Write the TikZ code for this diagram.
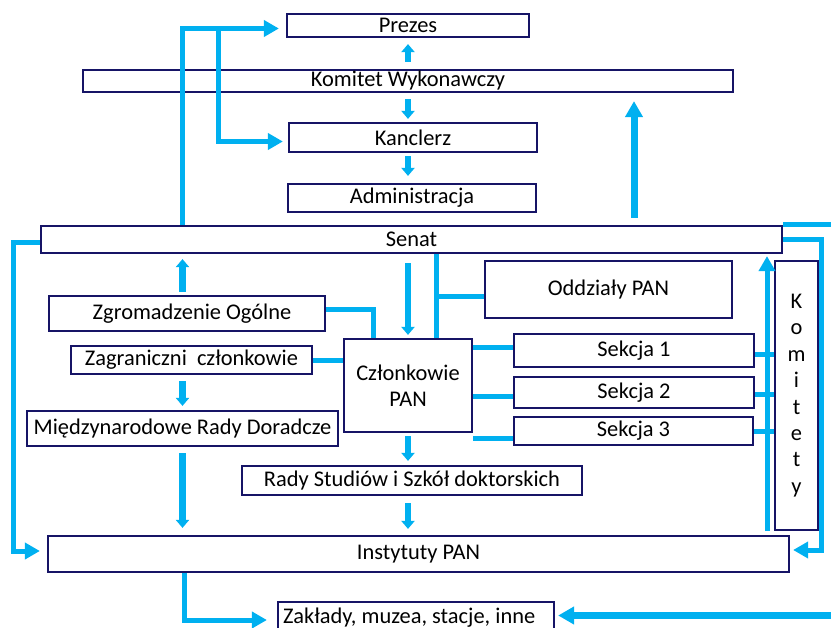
\documentclass[tikz,border=0pt]{standalone}
\usepackage{fontspec}
\setmainfont{Carlito}
\usetikzlibrary{arrows.meta}
\definecolor{navy}{RGB}{22,20,102}
\definecolor{sky}{RGB}{0,176,240}
\tikzset{
  box/.style={draw=navy, line width=2.2bp, fill=white, inner sep=0pt, align=center,
    font=\fontsize{22.5}{26}\selectfont},
  conn/.style={draw=sky, line width=5bp},
  arr/.style={conn, -{Triangle[length=15bp,width=16bp]}},
  barr/.style={draw=sky, line width=7bp, -{Triangle[length=16bp,width=17bp]}},
  sarr/.style={draw=sky, line width=6.5bp, -{Triangle[length=8bp,width=13bp]}},
}
\begin{document}
\begin{tikzpicture}[x=1bp,y=-1bp]
\useasboundingbox (0,0) rectangle (831,628);
% boxes
\node[box, minimum width=242bp, minimum height=23bp] (prezes) at (408,25.5) {Prezes};
\node[box, minimum width=650bp, minimum height=22bp] (komitet) at (408,81) {Komitet Wykonawczy};
\node[box, minimum width=248bp, minimum height=29bp] (kanclerz) at (413,137.5) {Kanclerz};
\node[box, minimum width=248bp, minimum height=28bp] (admin) at (412,198) {Administracja};
\node[box, minimum width=741bp, minimum height=27bp] (senat) at (411.5,239.5) {Senat};
\node[box, minimum width=276bp, minimum height=35bp] (zgrom) at (187,313.5) {\hspace*{10bp}Zgromadzenie Ogólne};
\node[box, minimum width=241bp, minimum height=28bp] (zagr) at (191.5,360) {Zagraniczni\ \ członkowie};
\node[box, minimum width=311bp, minimum height=35bp] (mrd) at (182.5,428.5) {Międzynarodowe Rady Doradcze};
\node[box, minimum width=128bp, minimum height=93bp] (czlon) at (408,385.5) {Członkowie\\PAN};
\node[box, minimum width=247bp, minimum height=57bp] (oddz) at (608.5,289.5) {Oddziały PAN};
\node[box, minimum width=240bp, minimum height=33bp] (sek1) at (634,350.5) {Sekcja 1};
\node[box, minimum width=240bp, minimum height=31bp] (sek2) at (634,392.5) {Sekcja 2};
\node[box, minimum width=239bp, minimum height=28bp] (sek3) at (633.5,431) {Sekcja 3};
\node[box, minimum width=43bp, minimum height=269bp, font=\fontsize{22.5}{26.5}\selectfont] (komitety) at (796.5,395.5) {K\\o\\m\\i\\t\\e\\t\\y};
\node[box, minimum width=340bp, minimum height=29bp] (rady) at (412,480.5) {Rady Studiów i Szkół doktorskich};
\node[box, minimum width=741bp, minimum height=36bp] (inst) at (418.5,554) {Instytuty PAN};
\node[box, minimum height=32bp, inner xsep=5bp] (zakl) at (416,618) {\makebox[266bp][l]{Zakłady, muzea, stacje, inne}};
% helper columns
\coordinate (c1) at (182.5,0);
\coordinate (c2) at (218.5,0);
\coordinate (cx) at (408,0);
\coordinate (cb) at (634,0);
\coordinate (cv) at (436.5,0);
\coordinate (cz) at (373.5,0);
\coordinate (rx) at (821,0);
\coordinate (lx) at (13.5,0);
\coordinate (kv) at (767,0);
\coordinate (ex) at (840,0);
\coordinate (iz) at (184.5,0);
\coordinate (pz) at ([yshift=-3bp]prezes.west);
% connectors
\draw[arr, shorten >=7bp] (senat.north -| c1) |- (pz);
\draw[arr, shorten >=5bp] (c2 |- pz) |- ([yshift=-4bp]kanclerz.west);
\draw[sarr, shorten <=7bp, shorten >=6bp] (cx |- komitet.north) -- (cx |- prezes.south);
\draw[sarr, shorten <=6bp, shorten >=3bp] (cx |- komitet.south) -- (cx |- kanclerz.north);
\draw[sarr, shorten <=3bp, shorten >=7bp] (cx |- kanclerz.south) -- (cx |- admin.north);
\draw[barr, shorten <=7bp, shorten >=8bp] (cb |- senat.north) -- (cb |- komitet.south);
\draw[conn] (senat.north east) -- (senat.north east -| ex);
\draw[arr, shorten >=3bp] (senat.east) -- (rx |- senat.east) -- ([yshift=4bp]rx |- inst.east) -- ([yshift=4bp]inst.east);
\draw[arr, shorten >=7bp] ([yshift=-2.5bp]senat.west) -- ([yshift=-2.5bp]lx |- senat.west) -- ([yshift=3bp]lx |- inst.west) -- ([yshift=3bp]inst.west);
\draw[sarr, shorten <=3bp, shorten >=5bp] (c1 |- zgrom.north) -- (c1 |- senat.south);
\draw[conn] ([yshift=4bp]zgrom.east) -| (cz |- czlon.north);
\draw[conn] (zagr.east) -- (zagr.east -| czlon.west);
\draw[sarr, shorten <=6bp, shorten >=4bp] (c1 |- zagr.south) -- (c1 |- mrd.north);
\draw[sarr, shorten <=6bp, shorten >=7bp] (c1 |- mrd.south) -- (c1 |- inst.north);
\draw[sarr, shorten <=9bp, shorten >=3bp] (cx |- senat.south) -- (cx |- czlon.north);
\draw[conn] (cv |- senat.south) -- (cv |- czlon.north);
\draw[conn] ([yshift=-7bp]cv |- oddz.west) -- ([yshift=-7bp]oddz.west);
\draw[conn] ([yshift=3bp]czlon.east |- sek1.west) -- ([yshift=3bp]sek1.west);
\draw[conn] ([yshift=-4bp]czlon.east |- sek2.west) -- ([yshift=-4bp]sek2.west);
\draw[conn] ([yshift=-7.5bp]czlon.east |- sek3.west) -- ([yshift=-7.5bp]sek3.west);
\draw[conn] ([yshift=-4bp]sek1.east) -- ([yshift=-4bp]komitety.west |- sek1.east);
\draw[conn] ([yshift=-2bp]sek2.east) -- ([yshift=-2bp]komitety.west |- sek2.east);
\draw[conn] (sek3.east) -- (komitety.west |- sek3.east);
\draw[arr, shorten >=2bp] (kv |- komitety.south) -- (kv |- senat.south);
\draw[sarr, shorten <=3bp, shorten >=4bp] (cx |- czlon.south) -- (cx |- rady.north);
\draw[sarr, shorten <=7bp, shorten >=6bp] (cx |- rady.south) -- (cx |- inst.north);
\draw[arr, shorten >=10bp] (iz |- inst.south) |- ([yshift=-2bp]iz |- zakl.west) -- ([yshift=-2bp]zakl.west);
\draw[barr, shorten >=3bp] ([yshift=2.5bp]ex |- zakl.east) -- ([yshift=2.5bp]zakl.east);
\end{tikzpicture}
\end{document}
